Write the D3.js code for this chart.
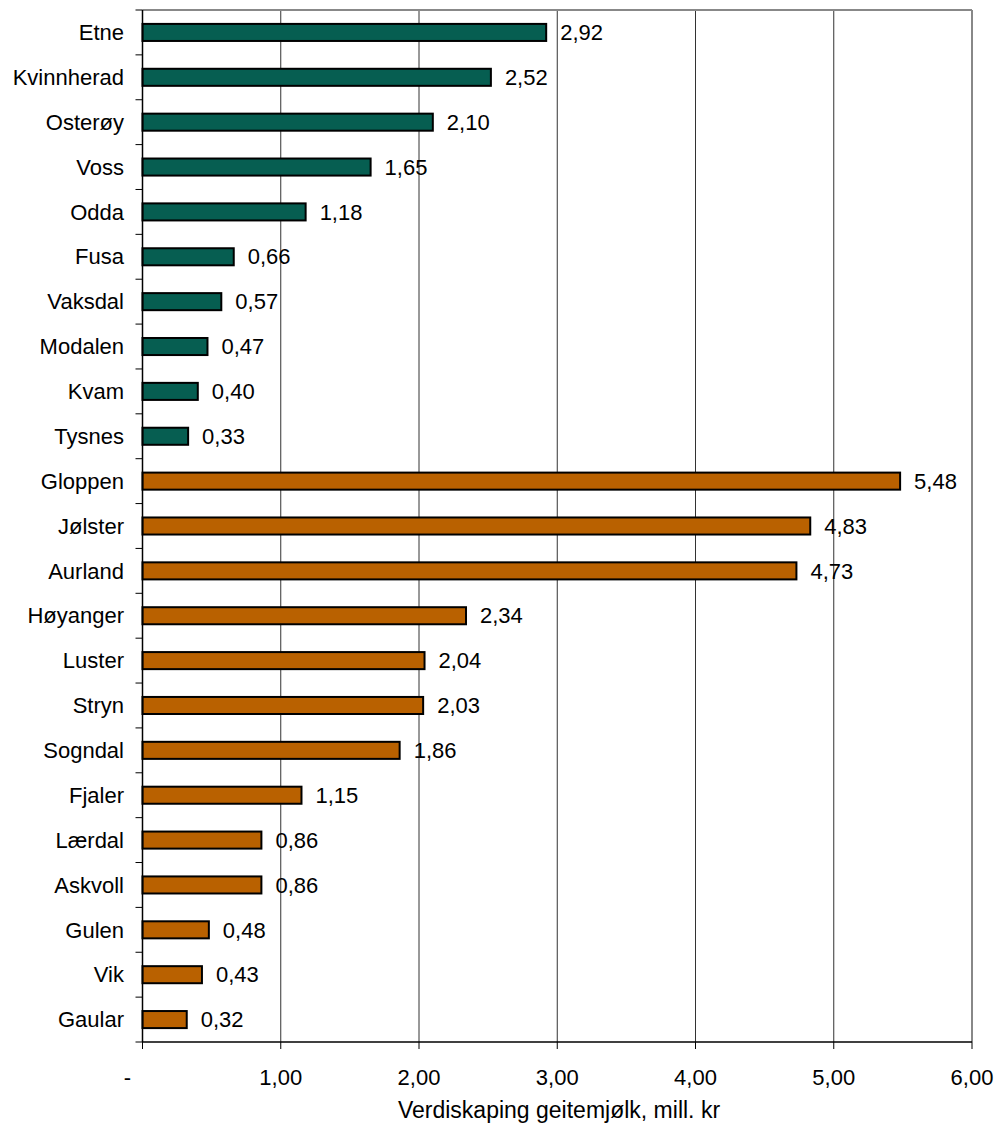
<!DOCTYPE html>
<html><head><meta charset="utf-8">
<script src="https://cdn.jsdelivr.net/npm/d3@7"></script>
<style>body{margin:0;background:#fff}</style>
</head><body>
<svg id="c" width="995" height="1124"></svg>
<script>
const categories = ["Etne","Kvinnherad","Osterøy","Voss","Odda","Fusa","Vaksdal","Modalen","Kvam","Tysnes","Gloppen","Jølster","Aurland","Høyanger","Luster","Stryn","Sogndal","Fjaler","Lærdal","Askvoll","Gulen","Vik","Gaular"];
const values = [2.92,2.52,2.10,1.65,1.18,0.66,0.57,0.47,0.40,0.33,5.48,4.83,4.73,2.34,2.04,2.03,1.86,1.15,0.86,0.86,0.48,0.43,0.32];
const groups = ["Hordaland","Hordaland","Hordaland","Hordaland","Hordaland","Hordaland","Hordaland","Hordaland","Hordaland","Hordaland","Sogn og Fjordane","Sogn og Fjordane","Sogn og Fjordane","Sogn og Fjordane","Sogn og Fjordane","Sogn og Fjordane","Sogn og Fjordane","Sogn og Fjordane","Sogn og Fjordane","Sogn og Fjordane","Sogn og Fjordane","Sogn og Fjordane","Sogn og Fjordane"];
const xTicks = [0,1,2,3,4,5,6];
const xTickLabels = ["-","1,00","2,00","3,00","4,00","5,00","6,00"];
const xTitle = "Verdiskaping geitemjølk, mill. kr";

const colors = {"Hordaland":"#065E51","Sogn og Fjordane":"#B96100"};
const font = "'Liberation Sans', Arial, sans-serif";
const FS = 22;
const L=142.5, R=972, T=10, B=1042;
const svg = d3.select("#c");
const x = d3.scaleLinear().domain([0,6]).range([L,R]);
const y = d3.scaleBand().domain(categories).range([T,B]).paddingInner(0.62).paddingOuter(0.31);
const step = y.step();

// gridlines
svg.append("g").selectAll("line").data(xTicks.slice(1,-1)).join("line")
  .attr("x1",d=>x(d)).attr("x2",d=>x(d)).attr("y1",T).attr("y2",B)
  .attr("stroke","#333").attr("stroke-width",1);
// top and right border
svg.append("line").attr("x1",L).attr("x2",R).attr("y1",T).attr("y2",T).attr("stroke","#888").attr("stroke-width",2);
svg.append("line").attr("x1",R).attr("x2",R).attr("y1",T).attr("y2",B).attr("stroke","#888").attr("stroke-width",2);

// bars
svg.append("g").selectAll("rect").data(categories).join("rect")
  .attr("x",x(0)).attr("y",d=>y(d)).attr("width",(d,i)=>x(values[i])-x(0)).attr("height",y.bandwidth())
  .attr("fill",(d,i)=>colors[groups[i]]).attr("stroke","#000").attr("stroke-width",2);

// value labels
svg.append("g").selectAll("text").data(categories).join("text")
  .attr("x",(d,i)=>x(values[i])+14).attr("y",d=>y(d)+y.bandwidth()/2).attr("dy","0.35em")
  .attr("font-family",font).attr("font-size",FS).attr("fill","#000")
  .text((d,i)=>d3.format(".2f")(values[i]).replace(".",","));

// y axis
svg.append("line").attr("x1",L).attr("x2",L).attr("y1",T).attr("y2",B).attr("stroke","#000").attr("stroke-width",1.5);
const yb = d3.range(categories.length+1).map(i=>T+i*step);
svg.append("g").selectAll("line").data(yb).join("line")
  .attr("x1",L-7).attr("x2",L).attr("y1",d=>d).attr("y2",d=>d).attr("stroke","#000");
svg.append("g").selectAll("text").data(categories).join("text")
  .attr("x",124).attr("y",d=>y(d)+y.bandwidth()/2).attr("dy","0.35em").attr("text-anchor","end")
  .attr("font-family",font).attr("font-size",FS).attr("fill","#000").text(d=>d);

// x axis
svg.append("line").attr("x1",L).attr("x2",R).attr("y1",B).attr("y2",B).attr("stroke","#000").attr("stroke-width",1.5);
svg.append("g").selectAll("line").data(xTicks).join("line")
  .attr("x1",d=>x(d)).attr("x2",d=>x(d)).attr("y1",B).attr("y2",B+7).attr("stroke","#000");
svg.append("g").selectAll("text").data(xTicks).join("text")
  .attr("x",(d,i)=>i===0?x(d)-15:x(d)).attr("y",B+35).attr("dy","0.35em")
  .attr("text-anchor","middle")
  .attr("font-family",font).attr("font-size",FS).attr("fill","#000").text((d,i)=>xTickLabels[i]);
svg.append("text").attr("x",559).attr("y",1110).attr("dy","0.35em").attr("text-anchor","middle")
  .attr("font-family",font).attr("font-size",23).attr("fill","#000").text(xTitle);
</script>
</body></html>
